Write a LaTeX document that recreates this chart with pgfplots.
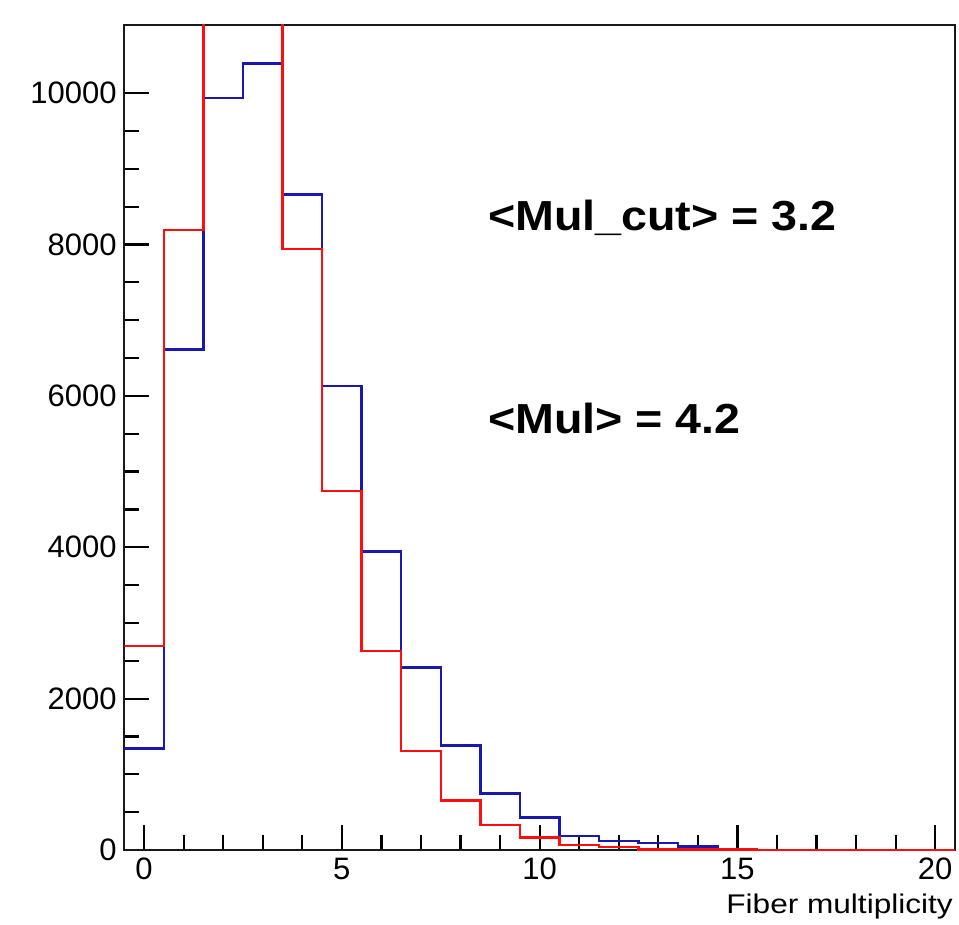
\documentclass[border=0pt]{standalone}
\usepackage{fontspec}
\setmainfont{Liberation Sans}
\usepackage{graphicx}
\usepackage{pgfplots}
\pgfplotsset{compat=1.18}
\definecolor{rootblue}{rgb}{0.1,0.1,0.7}
\definecolor{rootred}{rgb}{1,0.05,0.05}
\begin{document}
\begin{tikzpicture}
\begin{axis}[
  scale only axis, width=830.7pt, height=825pt,
  xmin=-0.5, xmax=20.5, ymin=0, ymax=10900,
  axis line style={line width=2.2pt, black!90},
  xtick={0,5,10,15,20}, minor x tick num=4,
  ytick={0,2000,4000,6000,8000,10000}, minor y tick num=3,
  scaled y ticks=false,
  tick align=inside, xtick pos=bottom, ytick pos=left,
  major tick length=25pt, minor tick length=15pt,
  tick style={line width=2.2pt, black},
  /pgf/number format/assume math mode=true,
  /pgf/number format/1000 sep={},
  tick label style={font=\fontsize{31}{31}\selectfont, inner sep=0pt},
  yticklabel shift=7.5pt, xticklabel shift=8pt,
  xlabel={\scalebox{1.17}[1]{\fontsize{27}{27}\selectfont Fiber multiplicity}},
  xlabel style={at={(rel axis cs:1,0)}, anchor=base east, yshift=-63pt, xshift=-2pt, inner sep=0pt},
  const plot, no marks,
]
\addplot[color=rootblue, line width=2.5pt] coordinates {
 (-0.5,1343) (0.5,6614) (1.5,9938) (2.5,10392) (3.5,8662) (4.5,6129) (5.5,3941)
 (6.5,2409) (7.5,1378) (8.5,744) (9.5,427) (10.5,185) (11.5,119) (12.5,95)
 (13.5,44) (14.5,0) (15.5,0) (16.5,0) (17.5,0) (18.5,0) (19.5,0) (20.5,0)};
\addplot[color=rootred, line width=2.5pt] coordinates {
 (-0.5,2695) (0.5,8190) (1.5,11600) (2.5,12000) (3.5,7939) (4.5,4742) (5.5,2629)
 (6.5,1308) (7.5,651) (8.5,330) (9.5,163) (10.5,66) (11.5,40) (12.5,10)
 (13.5,6) (14.5,4) (15.5,3) (16.5,2) (17.5,1) (18.5,1) (19.5,1) (20.5,1)};
\node[anchor=base west, inner sep=0pt] at (axis cs:8.69,8191)
  {\scalebox{1.11}[1]{\fontsize{42}{42}\selectfont\bfseries <Mul\_cut> = 3.2}};
\node[anchor=base west, inner sep=0pt] at (axis cs:8.69,5509)
  {\scalebox{1.11}[1]{\fontsize{42}{42}\selectfont\bfseries <Mul> = 4.2}};
\coordinate (sw) at (rel axis cs:0,0);
\coordinate (ne) at (rel axis cs:1,1);
\end{axis}
\path (sw) +(-124.3pt,-74pt) (ne) +(4pt,25pt);
\end{tikzpicture}
\end{document}
